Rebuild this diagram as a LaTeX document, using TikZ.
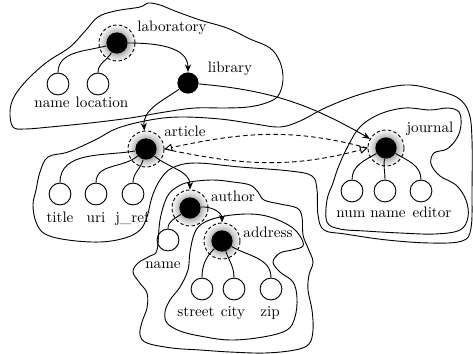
\documentclass[tikz,border=0pt]{standalone}
\usetikzlibrary{arrows.meta}
\pgfdeclareradialshading{haloshade}{\pgfpointorigin}{color(0bp)=(black!40); color(14bp)=(black!32); color(19bp)=(black!17); color(25bp)=(black!3); color(50bp)=(white)}
\begin{document}
\begin{tikzpicture}[x=0.66pt,y=0.66pt,line width=0.6pt,
  blob/.style={line width=0.6pt},
  halo/.style={circle,draw,dash pattern=on 2.2pt off 1.6pt,shading=haloshade,minimum size=23.8pt,inner sep=0pt},
  core/.style={circle,fill=black,minimum size=14pt,inner sep=0pt},
  leaf/.style={circle,draw,minimum size=14.4pt,inner sep=0pt},
  lbl/.style={anchor=base,inner sep=0pt},
  arr/.style={-{Stealth[length=5pt,width=4pt]}},
  darr/.style={dash pattern=on 3pt off 2pt,-{Triangle[open,length=5pt,width=5pt]}}]
\useasboundingbox (0,0) rectangle (473,-354);

% blobs
\draw[blob] plot[smooth cycle,tension=0.6] coordinates {(13,-127) (10,-112) (14,-97) (27,-80) (47,-62) (70,-47) (86,-30) (98,-17) (115,-11) (140,-7) (148,-3) (160,-5) (175,-11) (200,-20) (227,-28) (250,-39) (270,-48) (280,-62) (283,-80) (278,-96) (266,-103) (248,-107) (225,-108) (195,-108) (165,-112) (130,-118) (90,-123) (50,-127) (25,-129)};

\draw[blob] plot[smooth cycle,tension=0.6] coordinates {(147,-217) (152,-197) (160,-180) (172,-168) (195,-163) (240,-167) (290,-171) (312,-176) (317,-190) (318,-215) (324,-230) (345,-234) (387,-240) (430,-243) (462,-241) (471,-228) (472,-190) (472,-140) (469,-113) (458,-98) (435,-90) (410,-85) (385,-88) (355,-96) (325,-108) (300,-121) (280,-127) (255,-124) (220,-119) (180,-117) (150,-120) (118,-128) (95,-140) (68,-152) (48,-157) (40,-172) (36,-190) (33,-205) (36,-222) (45,-234) (68,-240) (100,-242) (125,-238) (140,-230)};

\draw[blob] plot[smooth cycle,tension=0.6] coordinates {(327,-222) (327,-200) (333,-183) (338,-168) (347,-148) (360,-127) (380,-114) (405,-108) (430,-110) (448,-108) (459,-112) (461,-125) (457,-138) (447,-149) (434,-153) (431,-164) (440,-176) (456,-185) (466,-200) (468,-217) (460,-230) (435,-234) (400,-233) (365,-231) (340,-229)};

\draw[blob] plot[smooth cycle,tension=0.6] coordinates {(157,-250) (160,-220) (167,-197) (177,-187) (190,-182) (213,-180) (233,-182) (250,-185) (258,-192) (264,-200) (280,-204) (297,-208) (302,-217) (303,-235) (308,-248) (313,-262) (309,-275) (308,-290) (312,-310) (313,-330) (309,-344) (295,-350) (265,-353) (230,-352) (200,-350) (172,-348) (147,-343) (140,-335) (142,-322) (147,-308) (147,-293) (139,-282) (133,-272) (138,-263) (150,-256)};

\draw[blob] plot[smooth cycle,tension=0.6] coordinates {(190,-252) (195,-232) (205,-222) (225,-216) (250,-214) (270,-217) (290,-226) (300,-236) (303,-246) (292,-250) (280,-253) (273,-262) (280,-272) (293,-282) (297,-298) (295,-317) (287,-330) (263,-337) (230,-340) (200,-336) (180,-331) (167,-323) (165,-312) (170,-300) (180,-287) (188,-270)};

% halos
\node[halo] (lab-h) at (117,-43) {};
\node[halo] (art-h) at (146,-149) {};
\node[halo] (jour-h) at (386,-148) {};
\node[halo] (auth-h) at (190,-208) {};
\node[halo] (addr-h) at (222,-241) {};

% core nodes
\node[core] (lab) at (117,-43) {};
\node[core] (lib) at (188,-83) {};
\node[core] (art) at (146,-149) {};
\node[core] (jour) at (386,-148) {};
\node[core] (auth) at (190,-208) {};
\node[core] (addr) at (222,-241) {};

% leaves
\node[leaf] (lname) at (58,-84) {};
\node[leaf] (loc) at (98,-84) {};
\node[leaf] (title) at (60,-194) {};
\node[leaf] (uri) at (96,-194) {};
\node[leaf] (jref) at (133,-194) {};
\node[leaf] (num) at (352,-191) {};
\node[leaf] (jname) at (385,-191) {};
\node[leaf] (editor) at (421,-191) {};
\node[leaf] (aname) at (168,-240) {};
\node[leaf] (street) at (202,-289) {};
\node[leaf] (city) at (234,-289) {};
\node[leaf] (zip) at (271,-289) {};

% labels
\node[lbl] (lab-l) at (172,-31) {laboratory};
\node[lbl] (lib-l) at (230,-72.5) {library};
\node[lbl] (art-l) at (185,-136) {article};
\node[lbl] (jour-l) at (430,-132.5) {journal};
\node[lbl] (auth-l) at (233,-201.5) {author};
\node[lbl] (addr-l) at (268,-237.5) {address};
\node[lbl] (lname-l) at (52,-107.3) {name};
\node[lbl] (loc-l) at (102,-107.3) {location};
\node[lbl] (title-l) at (60,-222) {title};
\node[lbl] (uri-l) at (96,-222) {uri};
\node[lbl] (jref-l) at (132,-222) {j\_ref};
\node[lbl] (num-l) at (351,-217) {num};
\node[lbl] (jname-l) at (388,-217) {name};
\node[lbl] (editor-l) at (432,-217) {editor};
\node[lbl] (aname-l) at (163,-268) {name};
\node[lbl] (street-l) at (196,-316) {street};
\node[lbl] (city-l) at (233,-316) {city};
\node[lbl] (zip-l) at (270,-316) {zip};

% edges
\draw (lab) to[out=195,in=90] (lname);
\draw (lab) to[out=240,in=90] (loc);
\draw[arr] (lab) to[out=0,in=90] (lib);
\draw[arr] (lib) to[out=215,in=95] (art-h);
\draw[arr] (lib) to[out=-5,in=150] (jour-h);
\draw (art) to[out=190,in=90] (title);
\draw (art) to[out=220,in=90] (uri);
\draw (art) to[out=255,in=90] (jref);
\draw[arr] (art) to[out=-40,in=90] (auth-h);
\draw[darr] (jour-h.west) to[out=165,in=12] (art-h.east);
\draw[darr] (art-h.east) to[out=-12,in=195] (jour-h.west);
\draw (jour) to[out=210,in=90] (num);
\draw (jour) to[out=262,in=90] (jname);
\draw (jour) to[out=-30,in=90] (editor);
\draw (auth) to[out=215,in=90] (aname);
\draw[arr] (auth) to[out=5,in=90] (addr-h);
\draw (addr) to[out=225,in=90] (street);
\draw (addr) to[out=-70,in=90] (city);
\draw (addr) to[out=-30,in=90] (zip);
\end{tikzpicture}
\end{document}
